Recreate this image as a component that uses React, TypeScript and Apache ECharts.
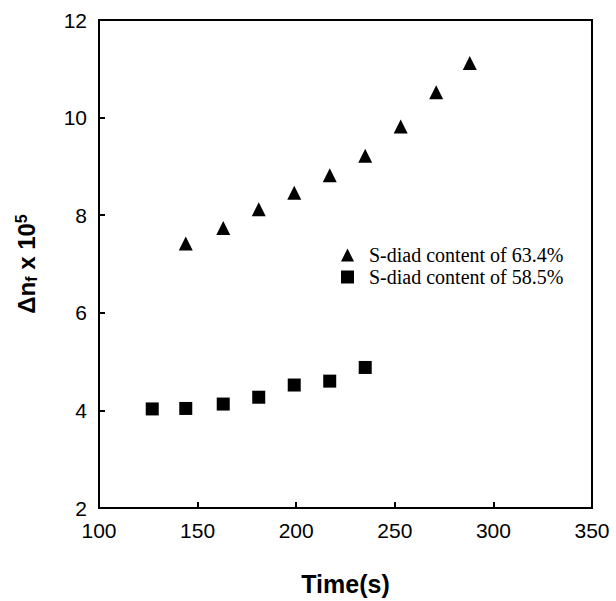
import React, { useEffect, useRef } from "react";
import * as echarts from "echarts";

const triTime = [144, 163, 181, 199, 217, 235, 253, 271, 288];
const triVal = [7.42, 7.74, 8.12, 8.46, 8.82, 9.22, 9.82, 10.52, 11.12];
const sqTime = [127, 144, 163, 181, 199, 217, 235];
const sqVal = [4.03, 4.04, 4.13, 4.27, 4.52, 4.6, 4.88];
const seriesNames = ["S-diad content of 63.4%", "S-diad content of 58.5%"];
const xTicks = { min: 100, max: 350, interval: 50 };
const yTicks = { min: 2, max: 12, interval: 2 };

export default function App() {
  const ref = useRef<HTMLDivElement>(null);
  useEffect(() => {
    if (!ref.current) return;
    const chart = echarts.init(ref.current, null, { renderer: "svg" });
    const sans = "Liberation Sans, Arial, sans-serif";
    const labelFont = { fontFamily: sans, fontSize: 21, color: "#000" };
    chart.setOption({
      animation: false,
      backgroundColor: "#fff",
      grid: {
        left: 99,
        right: 24,
        top: 20,
        bottom: 88,
        show: true,
        borderColor: "#000",
        borderWidth: 2,
        backgroundColor: "transparent",
      },
      legend: {
        orient: "vertical",
        left: 336,
        top: 240,
        itemWidth: 13,
        itemHeight: 13,
        itemGap: 2,
        data: seriesNames,
        itemStyle: { opacity: 1 },
        textStyle: {
          fontFamily: "Liberation Serif, Times New Roman, serif",
          fontSize: 20,
          color: "#000",
          padding: [0, 0, 0, 10],
        },
      },
      xAxis: {
        type: "value",
        min: xTicks.min,
        max: xTicks.max,
        interval: xTicks.interval,
        name: "Time(s)",
        nameLocation: "middle",
        nameGap: 63,
        nameTextStyle: { fontFamily: sans, fontSize: 25, fontWeight: "bold", color: "#000" },
        axisLine: { lineStyle: { color: "#000", width: 2 } },
        axisTick: { inside: true, length: 6, lineStyle: { color: "#000", width: 2 } },
        axisLabel: { ...labelFont, margin: 12 },
        splitLine: { show: false },
      },
      yAxis: {
        type: "value",
        min: yTicks.min,
        max: yTicks.max,
        interval: yTicks.interval,
        name: "{a|Δn}{b|f}{a| x 10}{c|5}",
        nameLocation: "middle",
        nameGap: 60,
        nameRotate: 90,
        nameTextStyle: {
          rich: {
            a: { fontFamily: sans, fontSize: 24, fontWeight: "bold", color: "#000" },
            b: { fontFamily: sans, fontSize: 16, fontWeight: "bold", color: "#000", verticalAlign: "bottom", padding: [10, 0, 0, 0] },
            c: { fontFamily: sans, fontSize: 16, fontWeight: "bold", color: "#000", verticalAlign: "top", padding: [0, 0, 10, 0] },
          },
        },
        axisLine: { lineStyle: { color: "#000", width: 2 } },
        axisTick: { inside: true, length: 6, lineStyle: { color: "#000", width: 2 } },
        axisLabel: { ...labelFont, margin: 12 },
        splitLine: { show: false },
      },
      series: [
        {
          name: seriesNames[0],
          type: "scatter",
          symbol: "triangle",
          symbolSize: 14,
          itemStyle: { color: "#000", opacity: 1 },
          data: triTime.map((t, i) => [t, triVal[i]]),
        },
        {
          name: seriesNames[1],
          type: "scatter",
          symbol: "rect",
          symbolSize: 13,
          itemStyle: { color: "#000", opacity: 1 },
          data: sqTime.map((t, i) => [t, sqVal[i]]),
        },
      ],
    });
    return () => chart.dispose();
  }, []);
  return <div ref={ref} style={{ width: 616, height: 601, position: "absolute", left: 0, top: 0 }} />;
}
